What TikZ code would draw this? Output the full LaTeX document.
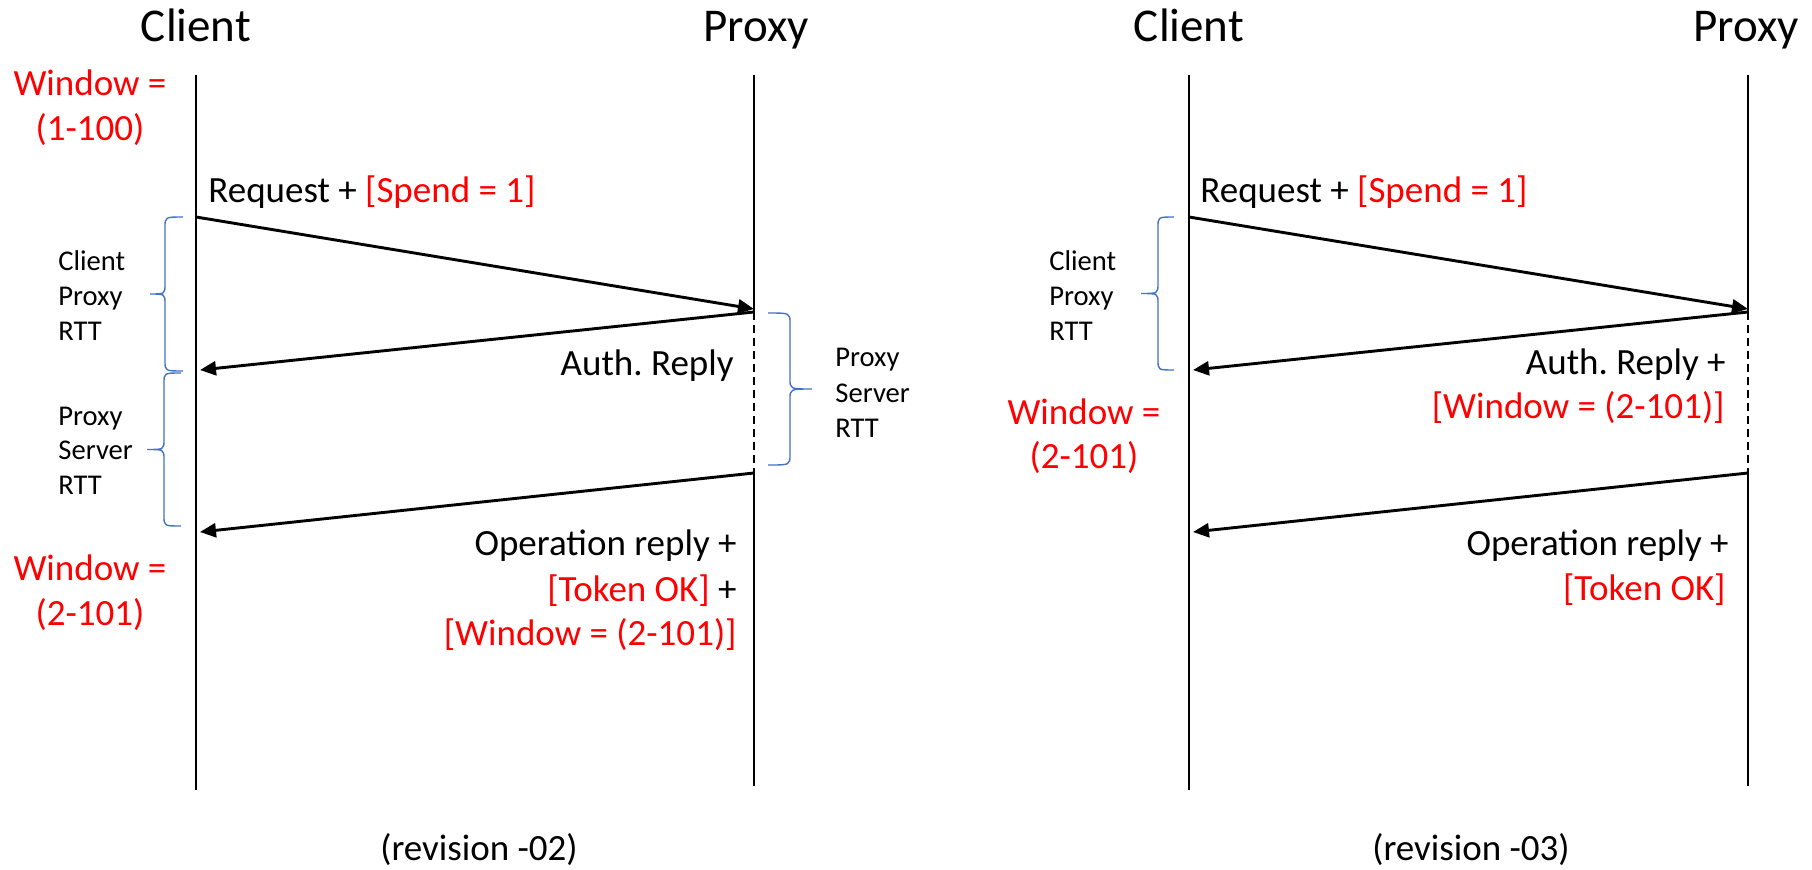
\documentclass[tikz,border=0pt]{standalone}
\usepackage{fontspec}
\setmainfont{Carlito}
\usetikzlibrary{arrows.meta}
\definecolor{msgred}{RGB}{255,0,0}
\definecolor{braceblue}{RGB}{68,114,196}
\frenchspacing

% curly brace: end x, spine x, tip x, top y, bottom y
\newcommand{\curlybrace}[5]{%
  \draw[rttbrace] ({#1},{#4}) .. controls ({#2},{#4}) .. ({#2},{#4+10})
    -- ({#2},{(#4+#5)/2-10}) .. controls ({#2},{(#4+#5)/2}) .. ({#3},{(#4+#5)/2})
    .. controls ({#2},{(#4+#5)/2}) .. ({#2},{(#4+#5)/2+10})
    -- ({#2},{#5-10}) .. controls ({#2},{#5}) .. ({#1},{#5});}

\begin{document}
\begin{tikzpicture}[x=0.5pt,y=-0.5pt,
  lifeline/.style={line width=0.6pt,black},
  waitline/.style={line width=0.6pt,black,dash pattern=on 4pt off 2.5pt},
  msg/.style={line width=1.45pt,-{Triangle[length=8pt,width=7pt]}},
  rttbrace/.style={braceblue,line width=0.7pt},
  title/.style={font=\fontsize{23.5}{28}\selectfont,inner sep=0pt},
  txt/.style={font=\fontsize{18.5}{22}\selectfont,inner sep=0pt},
  small/.style={font=\fontsize{14.3}{17}\selectfont,inner sep=0pt},
  hl/.style={text=msgred}]
\useasboundingbox (0,0) rectangle (1812,869);

% ---------- revision -02 ----------
\node[title,anchor=base] (c1) at (196,41) {Client};
\node[title,anchor=base] (p1) at (756,41) {Proxy};

\coordinate (c1top) at (196,75);
\coordinate (c1bot) at (196,790);
\coordinate (p1top) at (754,75);
\coordinate (p1ds) at (754,312);
\coordinate (p1de) at (754,473);
\coordinate (p1bot) at (754,786);
\draw[lifeline] (c1top) -- (c1bot);
\draw[lifeline] (p1top) -- (p1ds);
\draw[waitline] (p1ds) -- (p1de);
\draw[lifeline] (p1de) -- (p1bot);

\coordinate (c1a) at (196,217);
\coordinate (p1a) at (754,309);
\coordinate (c1b) at (200,370);
\coordinate (c1c) at (200,532);
\draw[msg] (c1a) -- (p1a);
\draw[msg] (p1ds) -- (c1b);
\draw[msg] (p1de) -- (c1c);

\node[txt,hl,anchor=base] (w1a) at (90,95) {Window =};
\node[txt,hl,anchor=base] (w1b) at (90,140) {(1-100)};
\node[txt,anchor=base west] (req1) at (208,202) {Request + \textcolor{msgred}{[Spend = 1]}};
\node[txt,anchor=base east] (auth1) at (734,375) {Auth. Reply};
\node[txt,anchor=base east] (op1a) at (737,555) {Operation reply +};
\node[txt,anchor=base east] (op1b) at (737,601) {\textcolor{msgred}{[Token OK]} +};
\node[txt,hl,anchor=base east] (op1c) at (737,645) {[Window = (2-101)]};
\node[txt,hl,anchor=base] (w1c) at (90,580) {Window =};
\node[txt,hl,anchor=base] (w1d) at (90,625) {(2-101)};

\curlybrace{183}{165}{150}{217}{371}
\curlybrace{181}{164}{147}{373}{526}
\curlybrace{768}{790}{812}{313}{465}

\node[small,anchor=base west] (r1a) at (58,270) {Client};
\node[small,anchor=base west] (r1b) at (58,305) {Proxy};
\node[small,anchor=base west] (r1c) at (58,340) {RTT};
\node[small,anchor=base west] (r1d) at (58,425) {Proxy};
\node[small,anchor=base west] (r1e) at (58,459) {Server};
\node[small,anchor=base west] (r1f) at (58,494) {RTT};
\node[small,anchor=base west] (r1g) at (835,366) {Proxy};
\node[small,anchor=base west] (r1h) at (835,402) {Server};
\node[small,anchor=base west] (r1i) at (835,437) {RTT};

\node[txt,anchor=base] (rev2) at (479,860) {(revision -02)};

% ---------- revision -03 ----------
\node[title,anchor=base] (c2) at (1189,41) {Client};
\node[title,anchor=base] (p2) at (1746,41) {Proxy};

\coordinate (c2top) at (1189,75);
\coordinate (c2bot) at (1189,790);
\coordinate (p2top) at (1748,75);
\coordinate (p2ds) at (1748,312);
\coordinate (p2de) at (1748,473);
\coordinate (p2bot) at (1748,786);
\draw[lifeline] (c2top) -- (c2bot);
\draw[lifeline] (p2top) -- (p2ds);
\draw[waitline] (p2ds) -- (p2de);
\draw[lifeline] (p2de) -- (p2bot);

\coordinate (c2a) at (1189,217);
\coordinate (p2a) at (1748,309);
\coordinate (c2b) at (1193,370);
\coordinate (c2c) at (1193,532);
\draw[msg] (c2a) -- (p2a);
\draw[msg] (p2ds) -- (c2b);
\draw[msg] (p2de) -- (c2c);

\node[txt,anchor=base west] (req2) at (1200,202) {Request + \textcolor{msgred}{[Spend = 1]}};
\node[txt,anchor=base east] (auth2a) at (1726,374) {Auth. Reply +};
\node[txt,hl,anchor=base east] (auth2b) at (1725,418) {[Window = (2-101)]};
\node[txt,hl,anchor=base] (w2a) at (1084,424) {Window =};
\node[txt,hl,anchor=base] (w2b) at (1084,468) {(2-101)};
\node[txt,anchor=base east] (op2a) at (1729,555) {Operation reply +};
\node[txt,hl,anchor=base east] (op2b) at (1726,600) {[Token OK]};

\curlybrace{1174}{1158}{1141}{217}{370}

\node[small,anchor=base west] (r2a) at (1049,270) {Client};
\node[small,anchor=base west] (r2b) at (1049,305) {Proxy};
\node[small,anchor=base west] (r2c) at (1049,340) {RTT};

\node[txt,anchor=base] (rev3) at (1471,860) {(revision -03)};
\end{tikzpicture}
\end{document}
